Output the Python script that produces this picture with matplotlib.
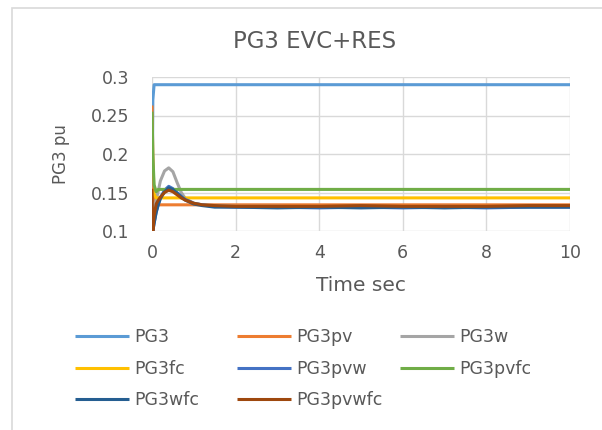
import matplotlib
matplotlib.use("Agg")
import matplotlib.pyplot as plt
from matplotlib.patches import Rectangle

plt.rcParams['font.family'] = ['DejaVu Sans']

# time points (sec) and values (pu)
t = [0, 0.02, 0.05, 0.1, 0.15, 0.2, 0.3, 0.4, 0.5, 0.6, 0.7, 0.8, 1.0, 1.2,
     1.5, 2, 3, 4, 5, 6, 7, 8, 9, 10]

pg3 = [0.10, 0.27, 0.29, 0.29, 0.29, 0.29, 0.29, 0.29, 0.29, 0.29, 0.29, 0.29,
       0.29, 0.29, 0.29, 0.29, 0.29, 0.29, 0.29, 0.29, 0.29, 0.29, 0.29, 0.29]
pg3pv = [0.263, 0.20, 0.14, 0.134, 0.134, 0.134, 0.134, 0.134, 0.134, 0.134,
         0.134, 0.134, 0.134, 0.134, 0.134, 0.134, 0.134, 0.134, 0.134, 0.134,
         0.134, 0.134, 0.134, 0.134]
pg3w = [0.10, 0.11, 0.125, 0.14, 0.152, 0.165, 0.178, 0.182, 0.177, 0.163,
        0.150, 0.142, 0.136, 0.134, 0.133, 0.132, 0.132, 0.131, 0.132, 0.131,
        0.132, 0.131, 0.132, 0.132]
pg3fc = [0.155, 0.152, 0.148, 0.143, 0.143, 0.143, 0.143, 0.143, 0.143, 0.143,
         0.143, 0.143, 0.143, 0.143, 0.143, 0.143, 0.143, 0.143, 0.143, 0.143,
         0.143, 0.143, 0.143, 0.143]
pg3pvw = [0.10, 0.10, 0.11, 0.125, 0.135, 0.143, 0.153, 0.158, 0.155, 0.150,
          0.145, 0.141, 0.136, 0.134, 0.132, 0.131, 0.131, 0.130, 0.131, 0.130,
          0.131, 0.130, 0.131, 0.131]
pg3pvfc = [0.255, 0.20, 0.16, 0.151, 0.154, 0.154, 0.154, 0.154, 0.154, 0.154,
           0.154, 0.154, 0.154, 0.154, 0.154, 0.154, 0.154, 0.154, 0.154, 0.154,
           0.154, 0.154, 0.154, 0.154]
pg3wfc = [0.10, 0.10, 0.11, 0.124, 0.134, 0.142, 0.151, 0.156, 0.154, 0.149,
          0.144, 0.140, 0.135, 0.133, 0.131, 0.131, 0.130, 0.131, 0.130, 0.131,
          0.130, 0.131, 0.131, 0.131]
pg3pvwfc = [0.155, 0.10, 0.12, 0.135, 0.140, 0.144, 0.150, 0.153, 0.151, 0.147,
            0.143, 0.140, 0.136, 0.134, 0.133, 0.132, 0.132, 0.132, 0.133, 0.132,
            0.132, 0.132, 0.133, 0.133]

names = ['PG3', 'PG3pv', 'PG3w', 'PG3fc', 'PG3pvw', 'PG3pvfc', 'PG3wfc', 'PG3pvwfc']
series = [pg3, pg3pv, pg3w, pg3fc, pg3pvw, pg3pvfc, pg3wfc, pg3pvwfc]
colors = ['#5B9BD5', '#ED7D31', '#A5A5A5', '#FFC000', '#4472C4', '#70AD47',
          '#255E91', '#9E480E']

txt = '#595959'
W, H = 602, 430

fig = plt.figure(figsize=(6.02, 4.3), dpi=100)
ax = fig.add_axes([152 / W, 1 - 231 / H, 418 / W, 154 / H])

lines = []
for name, y, c in zip(names, series, colors):
    ln, = ax.plot(t, y, color=c, lw=2.2, label=name, solid_capstyle='butt')
    lines.append(ln)

ax.set_xlim(0, 10)
ax.set_ylim(0.1, 0.3)
ax.set_xticks([0, 2, 4, 6, 8, 10])
ax.set_yticks([0.1, 0.15, 0.2, 0.25, 0.3])
ax.set_yticklabels(['0.1', '0.15', '0.2', '0.25', '0.3'])
ax.grid(True, color='#D9D9D9', lw=1)
ax.set_axisbelow(True)
for s in ax.spines.values():
    s.set_visible(False)
ax.tick_params(length=0, labelsize=12.5, colors=txt)
ax.tick_params(axis='y', pad=16.5)
ax.tick_params(axis='x', pad=9.5)

fig.text(314.5 / W, 1 - 48.3 / H, 'PG3 EVC+RES', fontsize=16.5, color=txt,
         ha='center', va='baseline')
fig.text(360.5 / W, 1 - 291 / H, 'Time sec', fontsize=14.5, color=txt,
         ha='center', va='baseline')
fig.text(60.5 / W, 1 - 154.5 / H, 'PG3 pu', fontsize=12, color=txt,
         ha='center', va='center', rotation=90)

# legend laid out in three equal columns, filled row by row
cols = [[0, 3, 6], [1, 4, 7], [2, 5]]
col_x = [75, 237, 400]
for idx, x0 in zip(cols, col_x):
    leg = fig.legend([lines[i] for i in idx], [names[i] for i in idx],
                     loc='upper left', bbox_to_anchor=(x0 / W, 1 - 328 / H),
                     frameon=False, fontsize=12.5, handlelength=3.1,
                     handletextpad=0.3, labelspacing=0.79, borderpad=0,
                     borderaxespad=0, labelcolor=txt)

# outer chart border (only top and left edges are visible in the crop)
fig.patches.append(Rectangle((12 / W, -0.1), 1.2, 1 - 8 / H + 0.1,
                             transform=fig.transFigure, fill=False,
                             edgecolor='#D9D9D9', lw=1.2))

fig.savefig('out.png', dpi=100)
